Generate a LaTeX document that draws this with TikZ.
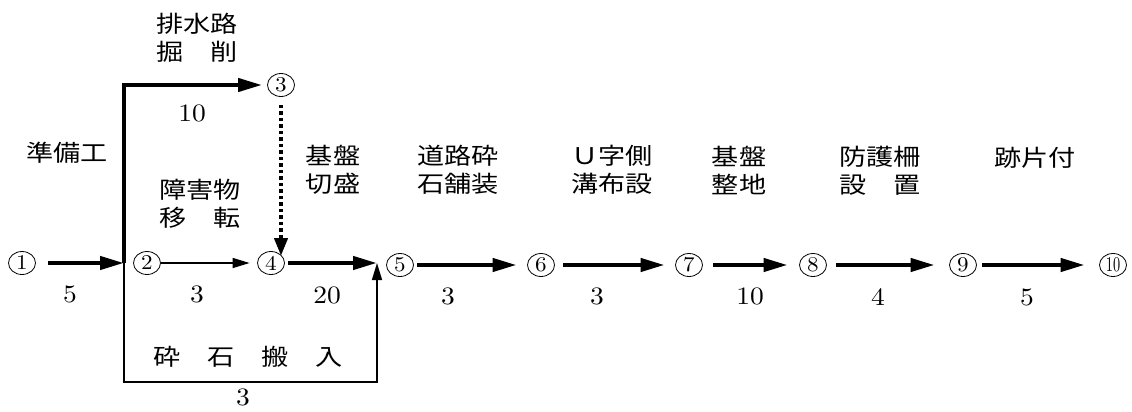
\documentclass[tikz,border=0pt]{standalone}
\usepackage{fontspec}
\usetikzlibrary{arrows.meta,shapes.geometric}
\newfontfamily\jfont{Noto Sans CJK JP}[FakeStretch=1.18]
\newfontfamily\numfont{lmroman10-regular}[Extension=.otf,FakeStretch=1.1]
\tikzset{
 ev/.style={ellipse, draw, line width=0.8pt, minimum width=27pt, minimum height=23pt, inner sep=0pt, font=\numfont\fontsize{21}{21}\selectfont},
 heavy/.style={line width=4.2pt, -{Triangle[length=24pt,width=13pt]}},
 light/.style={line width=1.4pt, -{Triangle[length=17pt,width=10pt]}},
 dots/.style={line width=4.2pt, dash pattern=on 3.5pt off 3pt, -{Triangle[length=18pt,width=13pt]}},
 lbl/.style={font=\jfont\fontsize{23}{28}\selectfont, align=center, inner sep=0pt},
 num/.style={font=\numfont\fontsize{25}{25}\selectfont, inner sep=0pt},
}
\begin{document}
\begin{tikzpicture}[x=1pt,y=-1pt]
\useasboundingbox (0,0) rectangle (1132,412);
% events
\node[ev] (n1) at (22,263) {1};
\node[ev] (n2) at (147,263) {2};
\node[ev] (n3) at (281,85) {3};
\node[ev] (n4) at (271,263) {4};
\node[ev] (n5) at (400,265) {5};
\node[ev] (n6) at (541,265) {6};
\node[ev] (n7) at (689,265) {7};
\node[ev] (n8) at (813,265) {8};
\node[ev] (n9) at (963,265) {9};
\node[ev] (n10) at (1113,265) {\scalebox{0.62}[1]{10}};
\coordinate (j) at (124,263);
\coordinate (j5) at (377,263);
\coordinate (cb) at (0,382);
\coordinate (c34) at (281,256);
% connectors
\draw[heavy, shorten <=12pt] (n1) -- (j);
\draw[heavy, shorten >=5pt] (j) |- (n3);
\draw[light, shorten >=7.5pt] (n2) -- (n4);
\draw[dots, shorten <=8pt] (n3) -- (c34);
\draw[heavy, shorten <=3pt] (n4) -- (j5);
\draw[light] (j) -- (j |- cb) -- (j5 |- cb) -- (j5);
\draw[heavy, shorten <=3.5pt, shorten >=10.5pt] (n5) -- (n6);
\draw[heavy, shorten <=8.5pt, shorten >=10.5pt] (n6) -- (n7);
\draw[heavy, shorten <=10.5pt, shorten >=11.5pt] (n7) -- (n8);
\draw[heavy, shorten <=9.5pt, shorten >=14.5pt] (n8) -- (n9);
\draw[heavy, shorten <=5.5pt, shorten >=14.5pt] (n9) -- (n10);
% activity labels
\node[lbl] (t12) at (67,153) {準備工};
\node[lbl] (t23) at (197,38) {排水路\\掘　削};
\node[lbl] (t24) at (200,204) {障害物\\移　転};
\node[lbl] (t45) at (333,170) {基盤\\切盛};
\node[lbl] (t56) at (458,170) {道路砕\\石舗装};
\node[lbl] (t67) at (612,170) {Ｕ字側\\溝布設};
\node[lbl] (t78) at (739,170) {基盤\\整地};
\node[lbl] (t89) at (880,171) {防護柵\\設　置};
\node[lbl] (t910) at (1035,158) {跡片付};
\node[lbl] (t25) at (248,357) {砕　石　搬　入};
% durations
\node[num] (d12) at (70,294) {5};
\node[num] (d23) at (192,113) {10};
\node[num] (d24) at (197,294) {3};
\node[num] (d45) at (327,295) {20};
\node[num] (d25) at (243,397) {3};
\node[num] (d56) at (448,296) {3};
\node[num] (d67) at (597,296) {3};
\node[num] (d78) at (750,296) {10};
\node[num] (d89) at (878,297) {4};
\node[num] (d910) at (1027,297) {5};
\end{tikzpicture}
\end{document}
